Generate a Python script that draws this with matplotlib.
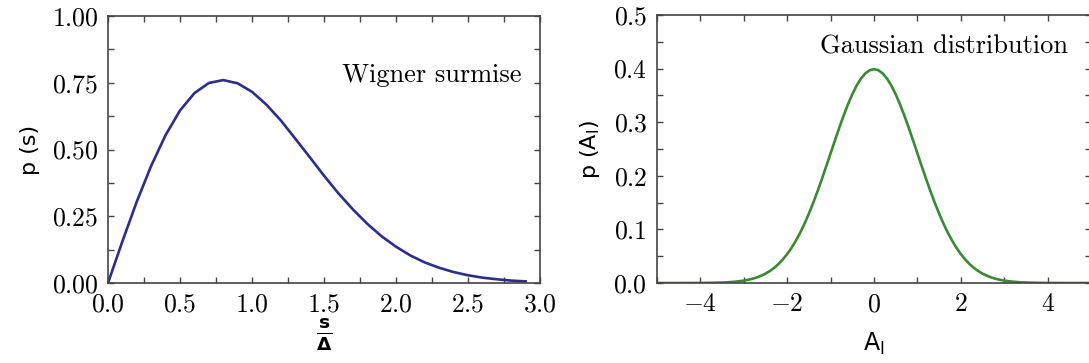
import matplotlib
matplotlib.use("Agg")
import matplotlib.pyplot as plt
from matplotlib.ticker import MultipleLocator

plt.rcParams["font.family"] = "serif"
plt.rcParams["font.serif"] = ["cmr10"]
plt.rcParams["mathtext.fontset"] = "cm"
plt.rcParams["axes.formatter.use_mathtext"] = True

s_vals = [0.0, 0.1, 0.2, 0.3, 0.4, 0.5, 0.6, 0.7, 0.8, 0.9, 1.0, 1.1, 1.2, 1.3, 1.4,
          1.5, 1.6, 1.7, 1.8, 1.9, 2.0, 2.1, 2.2, 2.3, 2.4, 2.5, 2.6, 2.7, 2.8, 2.9]
p_s = [0.0, 0.156, 0.305, 0.439, 0.554, 0.646, 0.711, 0.749, 0.760, 0.748, 0.716,
       0.668, 0.609, 0.541, 0.472, 0.402, 0.336, 0.276, 0.222, 0.175, 0.136, 0.103,
       0.077, 0.057, 0.041, 0.029, 0.020, 0.014, 0.009, 0.006]

# Gaussian curve (right panel), right half; the curve is symmetric about 0
a_half = [0.0, 0.1, 0.2, 0.3, 0.4, 0.5, 0.6, 0.7, 0.8, 0.9, 1.0, 1.1, 1.2, 1.3, 1.4,
          1.5, 1.6, 1.7, 1.8, 1.9, 2.0, 2.1, 2.2, 2.3, 2.4, 2.5, 2.6, 2.7, 2.8, 2.9,
          3.0, 3.2, 3.4, 3.6, 3.8, 4.0, 4.5, 5.0]
p_half = [0.3989, 0.3970, 0.3910, 0.3814, 0.3683, 0.3521, 0.3332, 0.3123, 0.2897,
          0.2661, 0.2420, 0.2179, 0.1942, 0.1714, 0.1497, 0.1295, 0.1109, 0.0940,
          0.0790, 0.0656, 0.0540, 0.0440, 0.0355, 0.0283, 0.0224, 0.0175, 0.0136,
          0.0104, 0.0079, 0.0060, 0.0044, 0.0024, 0.0012, 0.0006, 0.0003, 0.0001,
          0.0, 0.0]
a_vals = [-a for a in a_half[:0:-1]] + a_half
p_a = p_half[:0:-1] + p_half

W, H = 1089, 363
fig = plt.figure(figsize=(W / 100, H / 100), dpi=100)
ax1 = fig.add_axes([108 / W, 1 - 283 / H, 432 / W, 267 / H])
ax2 = fig.add_axes([657 / W, 1 - 283 / H, 434 / W, 268 / H])

sans = "DejaVu Sans"


def style(ax):
    for sp in ax.spines.values():
        sp.set_color("#444444")
        sp.set_linewidth(1.2)
    ax.tick_params(which="both", direction="in", top=True, right=True,
                   length=4, width=1.0, color="#444444", labelsize=18.5, pad=7)


ax1.plot(s_vals, p_s, color="#2b2e8c", lw=1.9)
ax1.set_xlim(0, 3.0)
ax1.set_ylim(0, 1.0)
ax1.xaxis.set_major_locator(MultipleLocator(0.5))
ax1.xaxis.set_minor_locator(MultipleLocator(0.25))
ax1.yaxis.set_major_locator(MultipleLocator(0.25))
ax1.yaxis.set_minor_locator(MultipleLocator(0.125))
ax1.yaxis.set_major_formatter(plt.FormatStrFormatter(r"$%.2f$"))
ax1.xaxis.set_major_formatter(plt.FormatStrFormatter(r"$%.1f$"))
style(ax1)
ax1.set_ylabel("p (s)", family=sans, fontsize=16, labelpad=8)
ax1.set_xlabel(r"$\mathbf{\frac{s}{\Delta}}$", family=sans,
               math_fontfamily="dejavusans", fontsize=19, labelpad=0)
ax1.text(0.958, 0.779, "Wigner surmise", transform=ax1.transAxes,
         ha="right", va="center", fontsize=19)

ax2.plot(a_vals, p_a, color="#3a8a32", lw=1.9)
ax2.set_xlim(-5, 5)
ax2.set_ylim(0, 0.5)
ax2.xaxis.set_major_locator(MultipleLocator(2))
ax2.xaxis.set_minor_locator(MultipleLocator(1))
ax2.yaxis.set_major_locator(MultipleLocator(0.1))
ax2.yaxis.set_minor_locator(MultipleLocator(0.05))
ax2.yaxis.set_major_formatter(plt.FormatStrFormatter(r"$%.1f$"))
style(ax2)
ax2.set_ylabel(r"p (A$_\mathsf{I}$)", family=sans, math_fontfamily="dejavusans",
               fontsize=16, labelpad=8)
ax2.set_xlabel(r"A$_\mathsf{I}$", family=sans, math_fontfamily="dejavusans",
               fontsize=17, labelpad=10)
ax2.text(0.947, 0.881, "Gaussian distribution", transform=ax2.transAxes,
         ha="right", va="center", fontsize=19)

fig.savefig("out.png", dpi=100)
